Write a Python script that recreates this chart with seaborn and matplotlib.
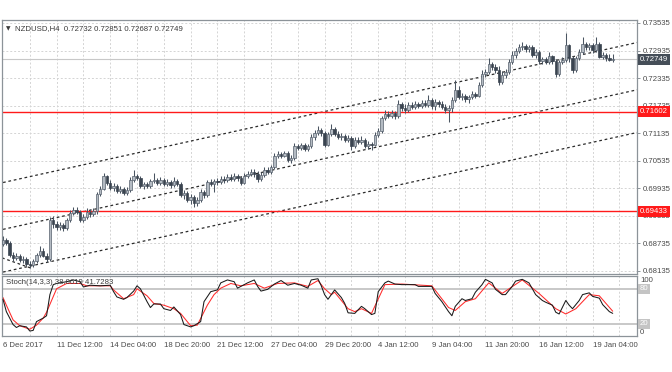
import numpy as np
import pandas as pd
import matplotlib
matplotlib.use("Agg")
import matplotlib.pyplot as plt
import matplotlib.transforms as mtransforms
import seaborn as sns

# ---------------- data ----------------
opens = [0.6872,0.6881,0.6874,0.6848,0.6842,0.6846,0.6837,0.6840,0.6829,0.6827,
         0.6835,0.6848,0.6857,0.6846,0.6840,0.6925,0.6916,0.6909,0.6914,0.6907,
         0.6925,0.6940,0.6946,0.6942,0.6925,0.6931,0.6942,0.6938,0.6944,0.6981,
         0.6992,0.7020,0.7005,0.6994,0.6999,0.6988,0.6992,0.6983,0.6990,0.7012,
         0.7020,0.7016,0.6999,0.7003,0.6999,0.7009,0.7012,0.7005,0.7012,0.7003,
         0.7007,0.7001,0.7009,0.7003,0.6979,0.6983,0.6968,0.6975,0.6962,0.6968,
         0.6985,0.6979,0.7007,0.7003,0.7009,0.7007,0.7014,0.7012,0.7018,0.7014,
         0.7020,0.7016,0.7005,0.7020,0.7025,0.7029,0.7025,0.7014,0.7023,0.7033,
         0.7029,0.7040,0.7064,0.7068,0.7064,0.7070,0.7055,0.7060,0.7086,0.7081,
         0.7088,0.7079,0.7086,0.7105,0.7114,0.7120,0.7114,0.7088,0.7112,0.7123,
         0.7112,0.7105,0.7107,0.7099,0.7103,0.7086,0.7099,0.7094,0.7099,0.7086,
         0.7090,0.7088,0.7110,0.7118,0.7147,0.7155,0.7151,0.7157,0.7151,0.7177,
         0.7168,0.7164,0.7175,0.7171,0.7177,0.7173,0.7179,0.7175,0.7186,0.7173,
         0.7181,0.7177,0.7171,0.7164,0.7168,0.7186,0.7208,0.7192,0.7195,0.7188,
         0.7192,0.7199,0.7195,0.7219,0.7242,0.7247,0.7264,0.7258,0.7251,0.7225,
         0.7240,0.7247,0.7269,0.7284,0.7293,0.7301,0.7303,0.7297,0.7301,0.7284,
         0.7290,0.7271,0.7275,0.7269,0.7282,0.7271,0.7242,0.7269,0.7273,0.7306,
         0.7277,0.7251,0.7277,0.7290,0.7308,0.7301,0.7306,0.7295,0.7308,0.7280,
         0.7284,0.7277,0.72732]
highs = [0.6890,0.6885,0.6879,0.6855,0.6853,0.6850,0.6846,0.6844,0.6835,0.6840,
         0.6853,0.6868,0.6863,0.6853,0.6931,0.6933,0.6922,0.6920,0.6918,0.6929,
         0.6946,0.6953,0.6953,0.6946,0.6938,0.6951,0.6948,0.6951,0.6985,0.6999,
         0.7027,0.7023,0.7012,0.7005,0.7003,0.6999,0.6996,0.6996,0.7018,0.7033,
         0.7025,0.7020,0.7007,0.7007,0.7014,0.7027,0.7016,0.7018,0.7016,0.7014,
         0.7012,0.7018,0.7014,0.7007,0.6990,0.6988,0.6981,0.6979,0.6975,0.6992,
         0.6990,0.7012,0.7014,0.7014,0.7016,0.7020,0.7020,0.7025,0.7025,0.7027,
         0.7025,0.7020,0.7027,0.7031,0.7036,0.7036,0.7031,0.7029,0.7040,0.7040,
         0.7044,0.7070,0.7075,0.7073,0.7075,0.7075,0.7066,0.7092,0.7090,0.7092,
         0.7092,0.7090,0.7112,0.7120,0.7129,0.7125,0.7118,0.7116,0.7134,0.7127,
         0.7118,0.7114,0.7112,0.7110,0.7107,0.7105,0.7105,0.7107,0.7103,0.7096,
         0.7094,0.7116,0.7125,0.7151,0.7164,0.7162,0.7164,0.7162,0.7186,0.7181,
         0.7177,0.7181,0.7181,0.7184,0.7181,0.7186,0.7186,0.7197,0.7190,0.7188,
         0.7186,0.7184,0.7177,0.7175,0.7192,0.7229,0.7216,0.7201,0.7199,0.7197,
         0.7205,0.7203,0.7225,0.7251,0.7253,0.7277,0.7269,0.7264,0.7260,0.7249,
         0.7253,0.7275,0.7293,0.7299,0.7308,0.7312,0.7308,0.7306,0.7306,0.7297,
         0.7295,0.7280,0.7280,0.7290,0.7284,0.7275,0.7273,0.7280,0.7332,0.7308,
         0.7282,0.7282,0.7297,0.7323,0.7312,0.7310,0.7310,0.7323,0.7312,0.7290,
         0.7288,0.7286,0.72851]
lows = [0.6868,0.6870,0.6844,0.6835,0.6837,0.6833,0.6831,0.6824,0.6820,0.6822,
        0.6831,0.6844,0.6844,0.6833,0.6835,0.6907,0.6903,0.6903,0.6900,0.6903,
        0.6920,0.6935,0.6938,0.6920,0.6920,0.6927,0.6931,0.6933,0.6938,0.6977,
        0.6990,0.7001,0.6990,0.6988,0.6983,0.6983,0.6979,0.6979,0.6985,0.7007,
        0.7012,0.6994,0.6992,0.6994,0.6994,0.7005,0.7001,0.7001,0.6999,0.6999,
        0.6994,0.6996,0.6999,0.6975,0.6970,0.6964,0.6959,0.6953,0.6955,0.6964,
        0.6972,0.6975,0.6999,0.6985,0.7001,0.7003,0.7005,0.7007,0.7009,0.7009,
        0.7009,0.7001,0.7003,0.7016,0.7020,0.7018,0.7007,0.7009,0.7018,0.7025,
        0.7025,0.7036,0.7060,0.7060,0.7062,0.7051,0.7049,0.7055,0.7077,0.7077,
        0.7075,0.7075,0.7081,0.7099,0.7110,0.7107,0.7083,0.7086,0.7107,0.7107,
        0.7101,0.7099,0.7094,0.7094,0.7077,0.7081,0.7090,0.7090,0.7081,0.7079,
        0.7077,0.7086,0.7105,0.7114,0.7142,0.7147,0.7147,0.7144,0.7147,0.7162,
        0.7157,0.7160,0.7166,0.7166,0.7168,0.7168,0.7171,0.7171,0.7166,0.7164,
        0.7171,0.7166,0.7157,0.7138,0.7160,0.7181,0.7188,0.7186,0.7181,0.7179,
        0.7188,0.7190,0.7192,0.7214,0.7236,0.7242,0.7251,0.7245,0.7219,0.7221,
        0.7234,0.7242,0.7264,0.7277,0.7288,0.7295,0.7290,0.7290,0.7280,0.7277,
        0.7264,0.7264,0.7264,0.7264,0.7264,0.7236,0.7238,0.7264,0.7269,0.7269,
        0.7245,0.7247,0.7273,0.7286,0.7295,0.7295,0.7288,0.7290,0.7277,0.7275,
        0.7271,0.7271,0.72687]
closes = [0.6881,0.6874,0.6848,0.6842,0.6846,0.6837,0.6840,0.6829,0.6827,0.6835,
          0.6848,0.6857,0.6846,0.6840,0.6925,0.6916,0.6909,0.6914,0.6907,0.6925,
          0.6940,0.6946,0.6942,0.6925,0.6931,0.6942,0.6938,0.6944,0.6981,0.6992,
          0.7020,0.7005,0.6994,0.6999,0.6988,0.6992,0.6983,0.6990,0.7012,0.7020,
          0.7016,0.6999,0.7003,0.6999,0.7009,0.7012,0.7005,0.7012,0.7003,0.7007,
          0.7001,0.7009,0.7003,0.6979,0.6983,0.6968,0.6975,0.6962,0.6968,0.6985,
          0.6979,0.7007,0.7003,0.7009,0.7007,0.7014,0.7012,0.7018,0.7014,0.7020,
          0.7016,0.7005,0.7020,0.7025,0.7029,0.7025,0.7014,0.7023,0.7033,0.7029,
          0.7040,0.7064,0.7068,0.7064,0.7070,0.7055,0.7060,0.7086,0.7081,0.7088,
          0.7079,0.7086,0.7105,0.7114,0.7120,0.7114,0.7088,0.7112,0.7123,0.7112,
          0.7105,0.7107,0.7099,0.7103,0.7086,0.7099,0.7094,0.7099,0.7086,0.7090,
          0.7088,0.7110,0.7118,0.7147,0.7155,0.7151,0.7157,0.7151,0.7177,0.7168,
          0.7164,0.7175,0.7171,0.7177,0.7173,0.7179,0.7175,0.7186,0.7173,0.7181,
          0.7177,0.7171,0.7164,0.7168,0.7186,0.7208,0.7192,0.7195,0.7188,0.7192,
          0.7199,0.7195,0.7219,0.7242,0.7247,0.7264,0.7258,0.7251,0.7225,0.7240,
          0.7247,0.7269,0.7284,0.7293,0.7301,0.7303,0.7297,0.7301,0.7284,0.7290,
          0.7271,0.7275,0.7269,0.7282,0.7271,0.7242,0.7269,0.7273,0.7306,0.7277,
          0.7251,0.7277,0.7290,0.7308,0.7301,0.7306,0.7295,0.7308,0.7280,0.7284,
          0.7277,0.72732,0.72749]

k_bars = [0,1,3,4,5,7,8,9,10,12,13,14,15,16,19,21,23,24,26,29,32,33,34,36,37,39,40,41,43,44,
          45,47,48,50,51,53,54,56,57,59,60,62,64,65,67,69,70,71,73,75,76,77,79,81,83,85,87,89,91,92,
          94,95,96,97,99,101,102,103,105,107,108,110,111,112,114,115,117,119,123,124,128,129,131,133,134,135,137,138,140,141,
          143,144,146,147,149,150,152,153,155,157,159,161,162,164,165,166,168,169,170,172,173,175,176,178,179,181,182]
k_vals = [62,41,19,14,17,15,8,9,24,30,34,70,87,89,92,95,92,83,86,85,86,75,66,62,65,76,85,80,58,48,
          54,54,46,43,49,36,19,15,17,24,58,75,78,90,95,92,81,84,90,95,84,76,79,88,94,86,89,86,81,95,
          97,85,70,62,78,65,55,39,38,50,46,36,38,75,90,93,88,87,87,84,84,72,58,41,34,50,63,60,63,74,
          87,96,90,79,70,70,84,93,96,90,70,60,57,52,40,37,60,52,46,60,70,73,67,64,53,41,38.0619]
d_bars = [0,1,3,5,8,10,12,13,16,17,19,23,25,32,33,36,39,40,43,45,48,51,53,56,58,61,63,65,68,71,
          75,78,82,87,91,94,96,98,99,103,105,107,110,114,119,128,133,135,138,141,145,149,155,160,165,168,171,175,178,182]
d_vals = [65,52,27,17,11,18,30,40,80,83,89,89,85,85,78,63,70,80,68,55,52,46,38,17,18,52,70,81,89,85,
          89,81,89,90,84,94,80,70,74,46,41,46,38,87,88,85,48,43,58,63,90,72,95,72,46,37,46,70,68,41.7283]

price_ticks = [0.73535, 0.72935, 0.72335, 0.71735, 0.71135, 0.70535, 0.69935, 0.69335, 0.68735, 0.68135]
hlines = [0.71602, 0.69433]
last_price = 0.72749
x_tick_bars = [0, 16, 32, 48, 64, 80, 96, 112, 128, 144, 160, 176]
x_tick_labels = ["6 Dec 2017", "11 Dec 12:00", "14 Dec 04:00", "18 Dec 20:00", "21 Dec 12:00",
                 "27 Dec 04:00", "29 Dec 20:00", "4 Jan 12:00", "9 Jan 04:00", "11 Jan 20:00",
                 "16 Jan 12:00", "19 Jan 04:00"]
channel_bars = [0, 189.3]
channel_upper = [0.7006, 0.7311]
channel_middle = [0.6904, 0.7208]
channel_lower = [0.6811, 0.7115]
short_line_bars = [-0.3, 9]
short_line = [0.6842, 0.6818]

# ---------------- style ----------------
sns.set_style("white")
plt.rcParams['font.family'] = ['Liberation Sans', 'DejaVu Sans']
TXT = '#4a4a4a'
FRAME = '#8c9399'
GRID = '#d4d4d4'
FS = 5.6

W, H = 672, 372
fig = plt.figure(figsize=(W / 100, H / 100), dpi=100)
fig.patch.set_facecolor('white')

def fx(px):
    return px / W

def fy(py):
    return 1 - py / H

ax = fig.add_axes([fx(2), fy(274), fx(637) - fx(2), fy(20) - fy(274)])
ax2 = fig.add_axes([fx(2), fy(336), fx(637) - fx(2), fy(276) - fy(336)])

XMIN, XMAX = -0.3, 189.25
for a in (ax, ax2):
    a.set_xlim(XMIN, XMAX)
    a.set_facecolor('white')
    for s in a.spines.values():
        s.set_color(FRAME)
        s.set_linewidth(0.9)
    a.yaxis.tick_right()
    a.tick_params(axis='y', direction='out', length=2.5, width=0.7, color=FRAME,
                  labelsize=FS, labelcolor=TXT, pad=1.5)
    a.tick_params(axis='x', direction='out', length=2.5, width=0.7, color=FRAME,
                  labelsize=FS, labelcolor=TXT, pad=1.5)

ax.set_ylim(0.68068, 0.73600)
ax2.set_ylim(-0.5, 101.7)

# grid (dotted)
grid_bars = np.arange(8, 190, 8)
for a in (ax, ax2):
    for gb in grid_bars:
        a.axvline(gb, color=GRID, lw=0.7, ls=(0, (2, 2)), zorder=0)
for p in price_ticks:
    ax.axhline(p, color=GRID, lw=0.7, ls=(0, (2, 2)), zorder=0)

# bid line
ax.axhline(last_price, color='#c8c8c8', lw=0.8, zorder=0.5)

# channel lines
for ys in (channel_upper, channel_middle, channel_lower):
    ax.plot(channel_bars, ys, color='#2b2b2b', lw=0.9, ls=(0, (2.2, 2.2)), zorder=1)
ax.plot(short_line_bars, short_line, color='#2b2b2b', lw=0.9, ls=(0, (2.2, 2.2)), zorder=1)

# red horizontal lines
for hl in hlines:
    ax.axhline(hl, color='#ff1a1a', lw=1.0, zorder=1.5)

# candles
df = pd.DataFrame({'open': opens, 'high': highs, 'low': lows, 'close': closes})
df['bar'] = np.arange(len(df))
bull = df['close'] >= df['open']
ax.vlines(df['bar'], df['low'], df['high'], color='#4a5562', lw=0.75, zorder=2)
body_bottom = np.minimum(df['open'], df['close'])
body_h = np.maximum(np.abs(df['close'] - df['open']), 0.00008)
ax.bar(df['bar'][bull], body_h[bull], bottom=body_bottom[bull], width=0.72,
       color='#b4bbc3', edgecolor='#56616d', linewidth=0.5, zorder=3)
ax.bar(df['bar'][~bull], body_h[~bull], bottom=body_bottom[~bull], width=0.72,
       color='#3a4450', edgecolor='#3a4450', linewidth=0.5, zorder=3)

# y ticks main
ax.set_yticks(price_ticks)
ax.set_yticklabels([f"{p:.5f}" for p in price_ticks])
ax.set_xticks([])

# price label boxes
trans = mtransforms.blended_transform_factory(ax.transAxes, ax.transData)
xo_main = 1.0 + fx(3) / (fx(637) - fx(2))
for hl in hlines:
    ax.text(xo_main, hl, f"{hl:.5f}", transform=trans, ha='left', va='center',
            fontsize=FS, color='white', zorder=10, clip_on=False,
            bbox=dict(boxstyle='square,pad=0.25', fc='#ff1a1a', ec='none'))
ax.text(xo_main, last_price, f"{last_price:.5f}", transform=trans, ha='left',
        va='center', fontsize=FS, color='white', zorder=10, clip_on=False,
        bbox=dict(boxstyle='square,pad=0.25', fc='#454e58', ec='none'))

# title
ax.text(0.006, 0.975, "\u25bc", transform=ax.transAxes, ha='left', va='top', fontsize=4.2,
        color='#3a3a3a', family=['DejaVu Sans'])
ax.text(0.021, 0.98, "NZDUSD,H4  0.72732 0.72851 0.72687 0.72749", transform=ax.transAxes,
        ha='left', va='top', fontsize=FS, color='#3a3a3a')

# stochastic panel
ax2.axhline(80, color='#c8c8c8', lw=1.4, zorder=1)
ax2.axhline(20, color='#c8c8c8', lw=1.4, zorder=1)
kdf = pd.DataFrame({'bar': k_bars, 'value': k_vals})
ddf = pd.DataFrame({'bar': d_bars, 'value': d_vals})
sns.lineplot(data=kdf, x='bar', y='value', ax=ax2, color='#1a1a1a', lw=0.75, zorder=3)
sns.lineplot(data=ddf, x='bar', y='value', ax=ax2, color='#ff2a2a', lw=0.75, zorder=2)
ax2.set_xlabel('')
ax2.set_ylabel('')
ax2.set_yticks([])
ax2.text(0.006, 0.955, "Stoch(14,3,3) 38.0619 41.7283", transform=ax2.transAxes, ha='left', va='top',
         fontsize=FS, color='#3a3a3a', zorder=6)

trans2 = mtransforms.blended_transform_factory(ax2.transAxes, ax2.transData)
xo = 1.0 + fx(3) / (fx(637) - fx(2))
ax2.text(xo, 100.5, "100", transform=trans2, ha='left', va='top', fontsize=FS, color=TXT, clip_on=False)
ax2.text(xo, -0.5, "0", transform=trans2, ha='left', va='bottom', fontsize=FS, color=TXT, clip_on=False)
for lv in (80, 20):
    ax2.text(xo, lv, f"{lv}", transform=trans2, ha='left', va='center', fontsize=FS, color='white',
             clip_on=False, bbox=dict(boxstyle='square,pad=0.2', fc='#c4c4c4', ec='none'))

ax2.set_xticks(x_tick_bars)
ax2.set_xticklabels(x_tick_labels, ha='left')
ax2.set_xlim(XMIN, XMAX)
ax2.tick_params(axis='x', length=3, pad=1.5)

fig.savefig("out.png", dpi=100, facecolor='white')
